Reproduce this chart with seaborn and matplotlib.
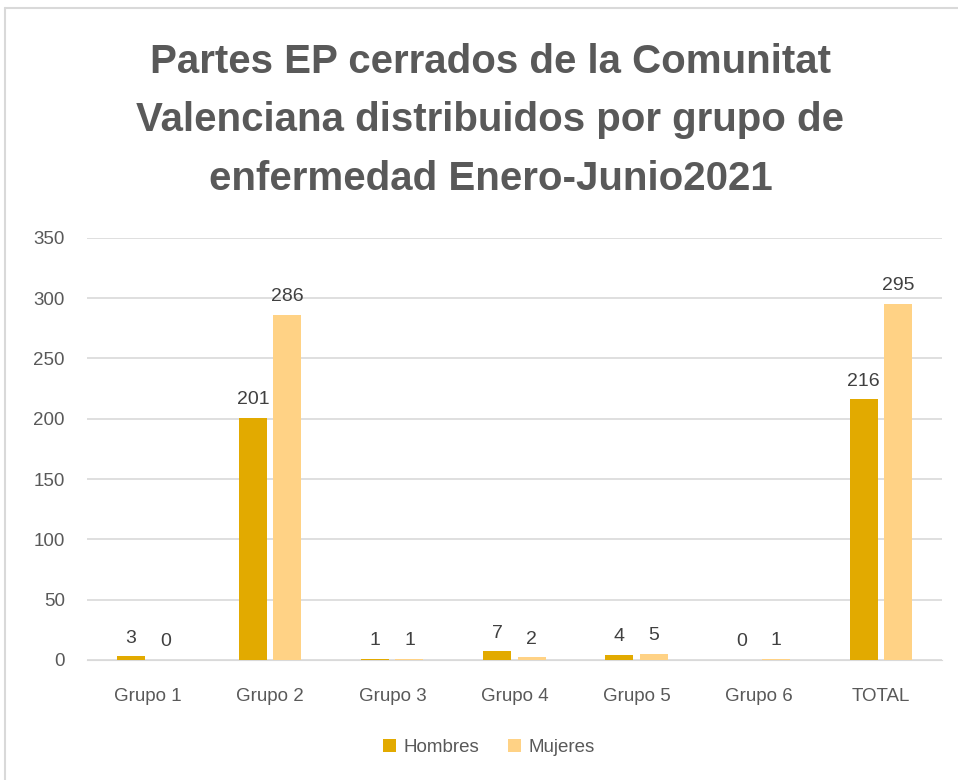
import pandas as pd
import matplotlib.pyplot as plt
import seaborn as sns
from matplotlib.lines import Line2D

grupos = ['Grupo 1', 'Grupo 2', 'Grupo 3', 'Grupo 4', 'Grupo 5', 'Grupo 6', 'TOTAL']
hombres = [3, 201, 1, 7, 4, 0, 216]
mujeres = [0, 286, 1, 2, 5, 1, 295]

df = pd.DataFrame({'grupo': grupos * 2,
                   'valor': hombres + mujeres,
                   'sexo': ['Hombres'] * len(grupos) + ['Mujeres'] * len(grupos)})

sns.set_style('white')
plt.rcParams['font.family'] = ['Liberation Sans', 'DejaVu Sans']

fig = plt.figure(figsize=(9.58, 7.8), dpi=100)
ax = fig.add_axes([0.091, 0.154, 0.892, 0.541])

sns.barplot(data=df, x='grupo', y='valor', hue='sexo',
            palette={'Hombres': '#E2AA00', 'Mujeres': '#FFD285'},
            width=0.56, gap=0.18, saturation=1, linewidth=0,
            ax=ax, legend=True, zorder=3)

for c in ax.containers:
    ax.bar_label(c, padding=7, fontsize=14, color='#404040')

ax.set_ylim(0, 350)
ax.set_yticks(range(0, 351, 50))
ax.yaxis.grid(True, color='#D9D9D9', linewidth=1.2, zorder=0)
ax.set_axisbelow(True)
for s in ax.spines.values():
    s.set_visible(False)
ax.spines['bottom'].set_visible(True)
ax.spines['bottom'].set_color('#D9D9D9')
ax.tick_params(axis='both', length=0, labelsize=13.5, labelcolor='#595959')
ax.tick_params(axis='x', pad=20)
ax.tick_params(axis='y', pad=16)
ax.set_xlabel('')
ax.set_ylabel('')

leg = ax.legend(loc='center', bbox_to_anchor=(0.47, -0.207), ncol=2, frameon=False,
                fontsize=13.5, handlelength=0.7, handleheight=0.7, columnspacing=1.5,
                handletextpad=0.4)
for t in leg.get_texts():
    t.set_color('#595959')

fig.text(0.512, 0.846,
         'Partes EP cerrados de la Comunitat\nValenciana distribuidos por grupo de\nenfermedad Enero-Junio2021',
         ha='center', va='center', fontsize=29, fontweight='bold', color='#595959',
         linespacing=1.68)

# chart frame
fig.add_artist(Line2D([5 / 958, 1], [1 - 8 / 780, 1 - 8 / 780], color='#D9D9D9', lw=1.5))
fig.add_artist(Line2D([5 / 958, 5 / 958], [0, 1 - 8 / 780], color='#D9D9D9', lw=1.5))

fig.savefig('out.png', dpi=100)
